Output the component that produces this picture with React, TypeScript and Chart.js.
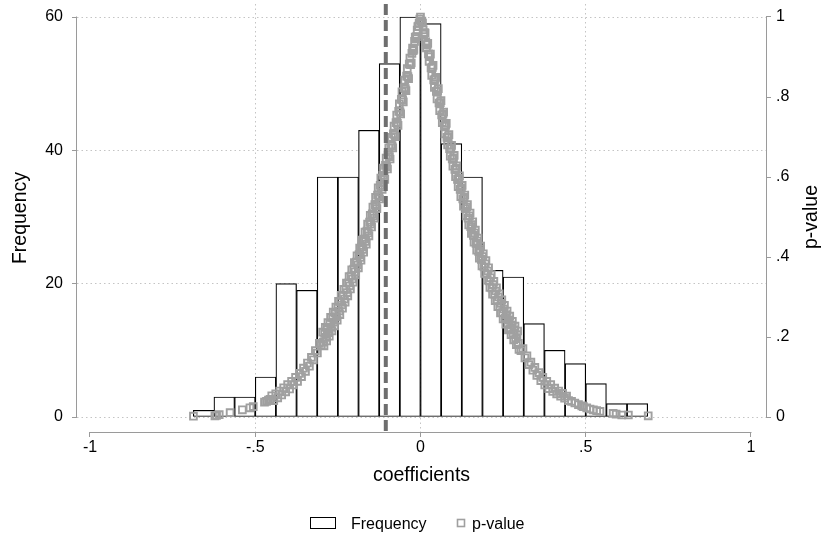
import { useEffect, useRef } from "react";
import { Chart, registerables } from "chart.js";

Chart.register(...registerables);

// Histogram: bin centres (width .0625) and counts
const binCenters = [
  -0.65625, -0.59375, -0.53125, -0.46875, -0.40625, -0.34375, -0.28125, -0.21875,
  -0.15625, -0.09375, -0.03125, 0.03125, 0.09375, 0.15625, 0.21875, 0.28125,
  0.34375, 0.40625, 0.46875, 0.53125, 0.59375, 0.65625,
];
const frequency = [1, 3, 3, 6, 20, 19, 36, 36, 43, 53, 60, 59, 41, 36, 22, 21, 14, 10, 8, 5, 2, 2];

// p-value markers: [coefficient, p-value]
const pValueSeries: [number, number][] = [
  [-0.687, 0.002], [-0.622, 0.003], [-0.617, 0.004], [-0.609, 0.006], [-0.576, 0.011],
  [-0.539, 0.018], [-0.516, 0.023], [-0.506, 0.026], [-0.472, 0.037], [-0.466, 0.039],
  [-0.46, 0.042], [-0.455, 0.044],
  [-0.45, 0.053], [-0.444, 0.041], [-0.438, 0.058], [-0.432, 0.048], [-0.426, 0.065],
  [-0.42, 0.055], [-0.414, 0.073], [-0.408, 0.063], [-0.402, 0.081], [-0.396, 0.07],
  [-0.39, 0.089], [-0.384, 0.08], [-0.378, 0.099], [-0.372, 0.089], [-0.366, 0.109],
  [-0.36, 0.101], [-0.354, 0.122], [-0.348, 0.114], [-0.342, 0.135], [-0.336, 0.127],
  [-0.33, 0.149], [-0.324, 0.143], [-0.318, 0.166], [-0.312, 0.16], [-0.306, 0.184],
  [-0.3, 0.179],
  [-0.296, 0.212], [-0.292, 0.178], [-0.288, 0.224], [-0.284, 0.19], [-0.28, 0.236],
  [-0.276, 0.202], [-0.272, 0.249], [-0.268, 0.215], [-0.264, 0.262], [-0.26, 0.228],
  [-0.256, 0.275], [-0.252, 0.242], [-0.248, 0.289], [-0.244, 0.256], [-0.24, 0.304],
  [-0.236, 0.272], [-0.232, 0.319], [-0.228, 0.287], [-0.224, 0.335], [-0.22, 0.303],
  [-0.216, 0.351], [-0.212, 0.32], [-0.208, 0.368], [-0.204, 0.337], [-0.2, 0.386],
  [-0.196, 0.355], [-0.192, 0.403], [-0.188, 0.373], [-0.184, 0.422], [-0.18, 0.392],
  [-0.176, 0.442], [-0.172, 0.412], [-0.168, 0.462], [-0.164, 0.432], [-0.16, 0.482],
  [-0.156, 0.453], [-0.152, 0.504], [-0.148, 0.475], [-0.144, 0.525], [-0.14, 0.497],
  [-0.136, 0.549], [-0.132, 0.521], [-0.128, 0.573], [-0.124, 0.545], [-0.12, 0.597],
  [-0.116, 0.569], [-0.112, 0.622], [-0.108, 0.594], [-0.104, 0.647], [-0.1, 0.62],
  [-0.096, 0.673], [-0.092, 0.645], [-0.088, 0.699], [-0.084, 0.673], [-0.08, 0.727],
  [-0.076, 0.701], [-0.072, 0.755], [-0.068, 0.729], [-0.064, 0.783], [-0.06, 0.758],
  [-0.056, 0.813], [-0.052, 0.788], [-0.048, 0.842], [-0.044, 0.816], [-0.04, 0.871],
  [-0.036, 0.846], [-0.032, 0.897], [-0.028, 0.885], [-0.024, 0.922], [-0.02, 0.919],
  [-0.016, 0.95], [-0.012, 0.951], [-0.008, 0.976], [-0.004, 0.984], [0.0, 1.0],
  [-0.294, 0.187], [-0.29, 0.209], [-0.286, 0.199], [-0.282, 0.221], [-0.278, 0.211],
  [-0.274, 0.234], [-0.27, 0.224], [-0.266, 0.247], [-0.262, 0.237], [-0.258, 0.26],
  [-0.254, 0.251], [-0.25, 0.274], [-0.246, 0.265], [-0.242, 0.288], [-0.238, 0.28],
  [-0.234, 0.304], [-0.23, 0.295], [-0.226, 0.319], [-0.222, 0.311], [-0.218, 0.335],
  [-0.214, 0.328], [-0.21, 0.352], [-0.206, 0.345], [-0.202, 0.37], [-0.198, 0.363],
  [-0.194, 0.387], [-0.19, 0.38], [-0.186, 0.406], [-0.182, 0.399], [-0.178, 0.425],
  [-0.174, 0.419], [-0.17, 0.445], [-0.166, 0.439], [-0.162, 0.465], [-0.158, 0.46],
  [-0.154, 0.487], [-0.15, 0.482], [-0.146, 0.508], [-0.142, 0.503], [-0.138, 0.531],
  [-0.134, 0.527], [-0.13, 0.555], [-0.126, 0.551], [-0.122, 0.579], [-0.118, 0.575],
  [-0.114, 0.604], [-0.11, 0.6], [-0.106, 0.629], [-0.102, 0.626], [-0.098, 0.655],
  [-0.094, 0.651], [-0.09, 0.68], [-0.086, 0.678], [-0.082, 0.708], [-0.078, 0.706],
  [-0.074, 0.736], [-0.07, 0.734], [-0.066, 0.764], [-0.062, 0.763], [-0.058, 0.794],
  [-0.054, 0.793], [-0.05, 0.823], [-0.046, 0.821], [-0.042, 0.852], [-0.038, 0.851],
  [-0.034, 0.882], [-0.03, 0.881], [-0.026, 0.909], [-0.022, 0.916], [-0.018, 0.939],
  [-0.014, 0.946], [-0.01, 0.967], [-0.006, 0.977], [-0.002, 0.995],
  [0.002, 0.989], [0.006, 0.985], [0.01, 0.957], [0.014, 0.96], [0.018, 0.923],
  [0.022, 0.934], [0.026, 0.889], [0.03, 0.907], [0.034, 0.854], [0.038, 0.879],
  [0.042, 0.824], [0.046, 0.849], [0.05, 0.795], [0.054, 0.821], [0.058, 0.766],
  [0.062, 0.791], [0.066, 0.736], [0.07, 0.762], [0.074, 0.708], [0.078, 0.734],
  [0.082, 0.68], [0.086, 0.706], [0.09, 0.652], [0.094, 0.679], [0.098, 0.627],
  [0.102, 0.654], [0.106, 0.601], [0.11, 0.628], [0.114, 0.576], [0.118, 0.603],
  [0.122, 0.551], [0.126, 0.579], [0.13, 0.527], [0.134, 0.555], [0.138, 0.503],
  [0.142, 0.531], [0.146, 0.48], [0.15, 0.51], [0.154, 0.459], [0.158, 0.488],
  [0.162, 0.437], [0.166, 0.467], [0.17, 0.417], [0.174, 0.447], [0.178, 0.397],
  [0.182, 0.427], [0.186, 0.378], [0.19, 0.408], [0.194, 0.359], [0.198, 0.391],
  [0.202, 0.342], [0.206, 0.373], [0.21, 0.324], [0.214, 0.356], [0.218, 0.307],
  [0.222, 0.339], [0.226, 0.291], [0.23, 0.323], [0.234, 0.276], [0.238, 0.308],
  [0.242, 0.26], [0.246, 0.293], [0.25, 0.245], [0.254, 0.279], [0.258, 0.232],
  [0.262, 0.265], [0.266, 0.218], [0.27, 0.252], [0.274, 0.206], [0.278, 0.239],
  [0.282, 0.193], [0.286, 0.227], [0.29, 0.181], [0.294, 0.215], [0.298, 0.169],
  [0.004, 0.99], [0.008, 0.968], [0.012, 0.961], [0.016, 0.938], [0.02, 0.931],
  [0.024, 0.908], [0.028, 0.901], [0.032, 0.873], [0.036, 0.874], [0.04, 0.843],
  [0.044, 0.844], [0.048, 0.814], [0.052, 0.816], [0.056, 0.785], [0.06, 0.786],
  [0.064, 0.755], [0.068, 0.757], [0.072, 0.727], [0.076, 0.729], [0.08, 0.699],
  [0.084, 0.701], [0.088, 0.671], [0.092, 0.673], [0.096, 0.645], [0.1, 0.648],
  [0.104, 0.619], [0.108, 0.622], [0.112, 0.594], [0.116, 0.597], [0.12, 0.569],
  [0.124, 0.573], [0.128, 0.545], [0.132, 0.549], [0.136, 0.521], [0.14, 0.525],
  [0.144, 0.497], [0.148, 0.503], [0.152, 0.476], [0.156, 0.481], [0.16, 0.454],
  [0.164, 0.46], [0.168, 0.434], [0.172, 0.44], [0.176, 0.414], [0.18, 0.42],
  [0.184, 0.394], [0.188, 0.401], [0.192, 0.375], [0.196, 0.383], [0.2, 0.358],
  [0.204, 0.365], [0.208, 0.34], [0.212, 0.348], [0.216, 0.323], [0.22, 0.331],
  [0.224, 0.307], [0.228, 0.315], [0.232, 0.291], [0.236, 0.3], [0.24, 0.276],
  [0.244, 0.284], [0.248, 0.261], [0.252, 0.27], [0.256, 0.247], [0.26, 0.256],
  [0.264, 0.234], [0.268, 0.243], [0.272, 0.221], [0.276, 0.23], [0.28, 0.208],
  [0.284, 0.218], [0.288, 0.196], [0.292, 0.206], [0.296, 0.184],
  [0.304, 0.166], [0.31, 0.171], [0.316, 0.148], [0.322, 0.153], [0.328, 0.131],
  [0.334, 0.137], [0.34, 0.117], [0.346, 0.124], [0.352, 0.104], [0.358, 0.111],
  [0.364, 0.091], [0.37, 0.099], [0.376, 0.08], [0.382, 0.089], [0.388, 0.071],
  [0.394, 0.081], [0.4, 0.064], [0.406, 0.072], [0.412, 0.058], [0.418, 0.065],
  [0.424, 0.052], [0.43, 0.059], [0.436, 0.047], [0.442, 0.052], [0.448, 0.041],
  [0.457, 0.039], [0.467, 0.035], [0.478, 0.031], [0.488, 0.028], [0.493, 0.026],
  [0.503, 0.023], [0.513, 0.02], [0.523, 0.018], [0.533, 0.016], [0.543, 0.014],
  [0.583, 0.009], [0.592, 0.007], [0.609, 0.005], [0.629, 0.005], [0.689, 0.003],
];

// Reference line (dashed) at coefficient
const xLineAt = -0.105;

// Axes
const xTicks = [-1, -0.5, 0, 0.5, 1];
const xTickLabels = ["-1", "-.5", "0", ".5", "1"];
const freqTicks = [0, 20, 40, 60];
const freqTickLabels = ["0", "20", "40", "60"];
const pTicks = [0, 0.2, 0.4, 0.6, 0.8, 1];
const pTickLabels = ["0", ".2", ".4", ".6", ".8", "1"];

const X_MIN = -1.0393;
const X_MAX = 1.0454;
const Y_MIN = -2.25;
const Y_MAX = 61.95;
const P_MIN = -0.0375;
const P_MAX = 1.0325;

const FONT = "'Liberation Sans', Arial, Helvetica, sans-serif";
const AXIS_COLOR = "#9a9a9a";
const GRID_COLOR = "#c4c4c4";
const MARKER_COLOR = "#a0a0a0";

const zeroPad = (axis: any) => {
  axis.paddingTop = 0;
  axis.paddingBottom = 0;
  axis.paddingLeft = 0;
  axis.paddingRight = 0;
};

const stataDecor = {
  id: "stataDecor",
  beforeDatasetsDraw(chart: any) {
    const { ctx, scales, chartArea } = chart;
    const x = scales.x;
    const y = scales.y;
    const y1 = scales.y1;
    ctx.save();
    ctx.strokeStyle = AXIS_COLOR;
    ctx.lineWidth = 1;
    ctx.beginPath();
    const lx = Math.round(chartArea.left) - 0.5;
    ctx.moveTo(lx, y.getPixelForValue(freqTicks[0]) + 0.5);
    ctx.lineTo(lx, y.getPixelForValue(freqTicks[freqTicks.length - 1]) - 0.5);
    const rx = Math.round(chartArea.right) + 0.5;
    ctx.moveTo(rx, y1.getPixelForValue(pTicks[0]) + 0.5);
    ctx.lineTo(rx, y1.getPixelForValue(pTicks[pTicks.length - 1]) - 0.5);
    const by = Math.round(chartArea.bottom) + 0.5;
    ctx.moveTo(x.getPixelForValue(xTicks[0]) - 0.5, by);
    ctx.lineTo(x.getPixelForValue(xTicks[xTicks.length - 1]) + 0.5, by);
    ctx.stroke();
    ctx.restore();
  },
  afterDraw(chart: any) {
    const { ctx, scales } = chart;
    const y1 = scales.y1;
    ctx.save();
    // right axis title, reading bottom-to-top
    ctx.fillStyle = "#000";
    ctx.font = `19.5px ${FONT}`;
    ctx.textAlign = "center";
    ctx.textBaseline = "middle";
    const cy = (y1.getPixelForValue(0) + y1.getPixelForValue(1)) / 2;
    ctx.translate(812, cy);
    ctx.rotate(-Math.PI / 2);
    ctx.fillText(chart.data.datasets[1].label, 0, 0);
    ctx.restore();

    // legend
    ctx.save();
    const freqLabel = chart.data.datasets[2].label;
    const pLabel = chart.data.datasets[1].label;
    ctx.fillStyle = "#fff";
    ctx.fillRect(310.5, 517.5, 25, 11);
    ctx.strokeStyle = "#000";
    ctx.lineWidth = 1;
    ctx.strokeRect(310.5, 517.5, 25, 11);
    ctx.fillStyle = "#000";
    ctx.font = `16px ${FONT}`;
    ctx.textAlign = "left";
    ctx.textBaseline = "alphabetic";
    ctx.fillText(freqLabel, 351, 529);
    ctx.strokeStyle = MARKER_COLOR;
    ctx.lineWidth = 1.6;
    ctx.strokeRect(457.5, 519.5, 7, 7);
    ctx.fillText(pLabel, 472, 529);
    ctx.restore();
  },
};

export default function App() {
  const canvasRef = useRef<HTMLCanvasElement | null>(null);

  useEffect(() => {
    const canvas = canvasRef.current;
    if (!canvas) return;
    const chart = new Chart(canvas, {
      type: "bar",
      data: {
        datasets: [
          {
            type: "line",
            label: "xline",
            data: [
              { x: xLineAt, y: Y_MAX },
              { x: xLineAt, y: Y_MIN },
            ],
            yAxisID: "y",
            borderColor: "#6e6e6e",
            borderWidth: 4,
            borderDash: [11, 5],
            pointRadius: 0,
            fill: false,
            order: 0,
          } as any,
          {
            type: "scatter",
            label: "p-value",
            data: pValueSeries.map(([c, p]) => ({ x: c, y: p })),
            yAxisID: "y1",
            pointStyle: "rect",
            pointRadius: 4.8,
            pointBorderWidth: 1.9,
            pointBorderColor: MARKER_COLOR,
            pointBackgroundColor: "rgba(0,0,0,0)",
            borderColor: MARKER_COLOR,
            backgroundColor: "rgba(0,0,0,0)",
            order: 1,
          } as any,
          {
            type: "bar",
            label: "Frequency",
            data: binCenters.map((c, i) => ({ x: c, y: frequency[i] })),
            yAxisID: "y",
            backgroundColor: "#ffffff",
            borderColor: "#000000",
            borderWidth: 1.2,
            borderSkipped: false,
            barPercentage: 1,
            categoryPercentage: 1,
            order: 2,
          } as any,
        ],
      },
      options: {
        animation: false,
        responsive: true,
        maintainAspectRatio: false,
        devicePixelRatio: 1,
        events: [],
        layout: { autoPadding: false, padding: { top: 4, left: 0, right: 0, bottom: 0 } },
        plugins: {
          legend: { display: false },
          tooltip: { enabled: false },
          title: { display: false },
        },
        scales: {
          x: {
            type: "linear",
            position: "bottom",
            min: X_MIN,
            max: X_MAX,
            offset: false,
            afterBuildTicks: (axis: any) => {
              axis.ticks = xTicks.map((v) => ({ value: v }));
            },
            afterFit: (axis: any) => {
              axis.height = 105;
              zeroPad(axis);
            },
            ticks: {
              autoSkip: false,
              maxRotation: 0,
              padding: 1,
              color: "#000",
              font: { family: FONT, size: 16 },
              callback: (v: any) => {
                const i = xTicks.indexOf(Number(v));
                return i >= 0 ? xTickLabels[i] : "";
              },
            },
            grid: {
              offset: false,
              color: (ctx: any) =>
                ctx.tick && Math.abs(ctx.tick.value) === 1 ? "rgba(0,0,0,0)" : GRID_COLOR,
              lineWidth: 1,
              tickColor: AXIS_COLOR,
              tickLength: 5,
              tickWidth: 1,
              tickBorderDash: [],
            },
            border: { display: false, dash: [1.5, 3] },
            title: {
              display: true,
              text: "coefficients",
              color: "#000",
              font: { family: FONT, size: 19.5 },
              padding: { top: 0, bottom: 50 },
            },
          },
          y: {
            type: "linear",
            position: "left",
            min: Y_MIN,
            max: Y_MAX,
            afterBuildTicks: (axis: any) => {
              axis.ticks = freqTicks.map((v) => ({ value: v }));
            },
            afterFit: (axis: any) => {
              axis.width = 77;
              zeroPad(axis);
            },
            ticks: {
              autoSkip: false,
              padding: 9,
              color: "#000",
              font: { family: FONT, size: 16 },
              callback: (v: any) => {
                const i = freqTicks.indexOf(Number(v));
                return i >= 0 ? freqTickLabels[i] : "";
              },
            },
            grid: {
              color: GRID_COLOR,
              lineWidth: 1,
              tickColor: AXIS_COLOR,
              tickLength: 5,
              tickWidth: 1,
              tickBorderDash: [],
            },
            border: { display: false, dash: [1.5, 3] },
            title: {
              display: true,
              text: "Frequency",
              color: "#000",
              font: { family: FONT, size: 19.5 },
              padding: { top: 9, bottom: 0 },
            },
          },
          y1: {
            type: "linear",
            position: "right",
            min: P_MIN,
            max: P_MAX,
            afterBuildTicks: (axis: any) => {
              axis.ticks = pTicks.map((v) => ({ value: v }));
            },
            afterFit: (axis: any) => {
              axis.width = 55;
              zeroPad(axis);
            },
            ticks: {
              autoSkip: false,
              padding: 5,
              color: "#000",
              font: { family: FONT, size: 16 },
              callback: (v: any) => {
                const i = pTicks.indexOf(Number(v));
                return i >= 0 ? pTickLabels[i] : "";
              },
            },
            grid: {
              drawOnChartArea: false,
              color: GRID_COLOR,
              tickColor: AXIS_COLOR,
              tickLength: 5,
              tickWidth: 1,
              tickBorderDash: [],
            },
            border: { display: false },
          },
        },
      },
      plugins: [stataDecor],
    } as any);
    return () => chart.destroy();
  }, []);

  return (
    <div style={{ position: "absolute", left: 0, top: 0, width: 821, height: 537 }}>
      <canvas ref={canvasRef} />
    </div>
  );
}
